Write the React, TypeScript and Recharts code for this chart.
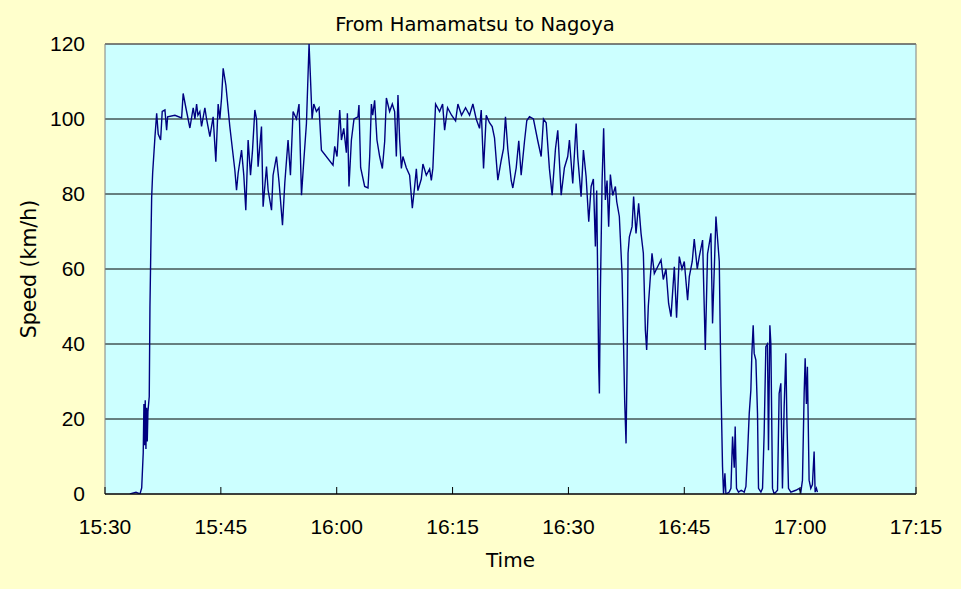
import React from "react";
import {
	LineChart,
	Line,
	CartesianGrid,
	XAxis,
	YAxis,
	ReferenceArea,
} from "recharts";

// minutes after 15:30
const times: number[] = [
	3.23, 4.01, 4.53, 4.75, 4.95, 5.04, 5.13, 5.21, 5.3, 5.39, 5.47, 5.56, 5.73, 5.82, 5.95, 6.04, 6.17, 6.47, 6.69, 6.89,
	7.2, 7.41, 7.76, 7.98, 8.11, 9.05, 9.92, 10.12, 10.47, 10.99, 11.42, 11.64, 11.86, 12.03, 12.28, 12.5, 12.93, 13.15, 13.58, 14.0,
	14.35, 14.65, 14.87, 15.09, 15.3, 15.65, 16.16, 16.81, 17.03, 17.24, 17.68, 17.97, 18.23, 18.53, 18.84, 19.1, 19.4, 19.62, 19.82, 20.26,
	20.47, 20.91, 21.12, 21.56, 21.76, 22.2, 22.54, 22.98, 23.28, 23.7, 24.01, 24.35, 24.79, 25.12, 25.44, 25.73, 26.08, 26.42, 26.6, 26.81,
	27.03, 27.37, 27.71, 28.02, 29.52, 29.74, 30.04, 30.39, 30.61, 30.91, 31.25, 31.38, 31.59, 31.9, 32.24, 32.75, 32.88, 33.1, 33.62, 34.05,
	34.27, 34.49, 34.66, 34.91, 35.21, 35.56, 35.91, 36.21, 36.43, 36.85, 37.2, 37.5, 37.72, 37.93, 38.15, 38.37, 38.57, 39.01, 39.44, 39.79,
	40.09, 40.31, 40.51, 40.95, 41.16, 41.6, 42.03, 42.25, 42.45, 42.8, 43.32, 43.71, 43.97, 44.35, 44.87, 45.39, 45.69, 46.16, 46.68, 47.2,
	47.63, 48.06, 48.49, 48.71, 49.01, 49.36, 49.78, 50.13, 50.43, 50.86, 51.3, 51.59, 51.85, 52.15, 52.59, 52.8, 53.24, 53.57, 53.88, 54.31,
	54.61, 54.96, 55.47, 56.03, 56.47, 56.77, 57.12, 57.54, 57.89, 58.32, 58.62, 59.06, 59.48, 59.91, 60.13, 60.56, 61.0, 61.2, 61.64, 61.94,
	62.29, 62.63, 62.94, 63.23, 63.49, 63.66, 63.92, 64.01, 64.14, 64.36, 64.56, 64.78, 65.0, 65.21, 65.43, 65.73, 66.08, 66.25, 66.59, 66.94,
	67.11, 67.28, 67.46, 67.59, 67.72, 67.89, 68.24, 68.44, 68.75, 69.09, 69.4, 69.7, 69.96, 70.13, 70.34, 70.82, 71.12, 71.55, 71.99, 72.28,
	72.63, 72.97, 73.28, 73.71, 74.0, 74.35, 74.7, 75.0, 75.43, 75.65, 76.03, 76.29, 76.68, 76.94, 77.37, 77.72, 78.01, 78.45, 78.66, 79.1,
	79.31, 79.53, 79.75, 79.95, 80.08, 80.26, 80.39, 80.82, 81.04, 81.25, 81.47, 81.59, 81.76, 82.02, 82.37, 82.76, 82.98, 83.19, 83.41, 83.62,
	83.75, 83.92, 84.05, 84.27, 84.48, 84.61, 84.92, 85.13, 85.34, 85.56, 85.77, 85.9, 86.08, 86.21, 86.42, 86.64, 87.07, 87.28, 87.5, 87.71,
	87.93, 88.15, 88.28, 88.49, 88.8, 89.44, 89.87, 90.09, 90.3, 90.52, 90.65, 90.81, 90.94, 91.16, 91.38, 91.59, 91.81, 91.94, 92.11, 92.24,
];

// km/h
const speeds: number[] = [
	0, 0.5, 0, 1.6, 11, 24, 13, 25, 12, 23, 14, 22, 26, 50, 67.7, 79, 85.6, 95.3, 101.5, 96,
	94.4, 102, 102.4, 97, 100.6, 101, 100.3, 106.8, 103, 97.6, 103, 100, 104, 101, 102, 98, 103, 100, 95.3, 100.6,
	88.6, 104, 100, 105.6, 113.5, 109, 98, 86.4, 81, 85.6, 91.7, 85, 75.7, 94.4, 85, 91.7, 102.4, 100, 87.3, 98,
	76.6, 87.3, 81, 75.7, 85, 90, 83, 71.7, 83, 94.4, 85, 102, 100, 104, 79.7, 88.6, 98.8, 120, 111, 100,
	104, 102, 103, 91.7, 87.7, 92.7, 90, 102.4, 94.4, 97.5, 91, 101.5, 82, 94.4, 100, 100.6, 103.7, 87, 82, 81.6,
	90, 104, 101, 105, 94.4, 90, 86.8, 94, 105.6, 102, 104, 102, 90, 106.4, 94.4, 86.8, 90, 87, 85, 76.2,
	82, 86.7, 80.9, 84, 88, 85, 86.7, 83.6, 86.9, 104, 102, 104, 97, 103, 101, 99.5, 104, 101, 103, 101,
	104, 100, 97.5, 102.4, 86.8, 101, 99, 98, 95, 83.7, 89, 92, 100.6, 92, 83.6, 81.6, 87, 94.2, 85, 94,
	99.6, 100.6, 100, 94.2, 90, 100, 99, 86.7, 79.7, 92, 97, 79.7, 87, 90, 94.4, 82.8, 98.8, 90, 79.3, 91.7,
	84.6, 72.6, 82, 84, 66, 80.9, 34, 26.8, 54.4, 83.6, 97.5, 78.4, 83.6, 71.3, 85.2, 79.6, 82, 78, 74, 58.8,
	42.8, 25, 13.5, 34, 64.2, 68.6, 71.3, 79.3, 69.5, 77.5, 69.5, 64.2, 43.7, 38.4, 50, 64.2, 58.8, 60.6, 62.4, 57.2,
	60, 50.8, 47.3, 60.6, 47, 63.3, 60, 62, 51.7, 58, 62, 68, 60, 63.3, 67.7, 38.4, 64, 69.5, 45.5, 74,
	68, 62, 28.6, 7.3, 0, 5.5, 0, 0.5, 1.5, 15.3, 7, 18, 1.5, 0.5, 1, 0.5, 2, 10.8, 21.5, 27.7,
	37.5, 45, 37.5, 35.7, 21.5, 1.5, 0.5, 1.5, 16.2, 39.3, 40, 11.7, 45, 40, 1.5, 0, 1, 26.8, 29.5, 1.5,
	23.3, 37.5, 20, 1.5, 0.5, 1, 1.5, 0.5, 3.7, 26.8, 36.2, 24, 33.9, 3.7, 1.5, 2.5, 11.3, 0.5, 1.5, 0.5,
];

const xTicks = [0, 15, 30, 45, 60, 75, 90, 105];
const yTicks = [0, 20, 40, 60, 80, 100, 120];

const data = times.map((t, i) => ({ t, speed: speeds[i] }));

const clock = (m: number) => {
	const total = 15 * 60 + 30 + m;
	const h = Math.floor(total / 60);
	const mm = total % 60;
	return `${h}:${mm < 10 ? "0" + mm : mm}`;
};

const tickFont = { fontFamily: "Liberation Sans", fontSize: 21, fill: "#000" };
const titleFont = "DejaVu Sans";

export default function App() {
	return (
		<div
			style={{
				position: "absolute",
				left: 0,
				top: 0,
				width: 961,
				height: 589,
				background: "#FFFFCC",
				overflow: "hidden",
			}}
		>
			<div
				style={{
					position: "absolute",
					top: 14,
					left: 0,
					width: 950,
					textAlign: "center",
					fontFamily: titleFont,
					fontSize: 19.5,
					lineHeight: "22px",
					color: "#000",
				}}
			>
				From Hamamatsu to Nagoya
			</div>
			<LineChart
				width={961}
				height={589}
				data={data}
				margin={{ top: 44, right: 45, bottom: 0, left: 0 }}
			>
				<CartesianGrid
					vertical={false}
					stroke="#000"
					strokeWidth={1}
					fill="#CCFFFF"
					fillOpacity={1}
				/>
				<XAxis
					dataKey="t"
					type="number"
					domain={[0, 105]}
					ticks={xTicks}
					tickFormatter={clock}
					height={95}
					tickSize={-7}
					tickMargin={32}
					stroke="#000"
					tick={tickFont}
					label={{
						value: "Time",
						position: "insideBottom",
						offset: 22,
						style: { fontFamily: titleFont, fontSize: 20, fill: "#000" },
					}}
				/>
				<YAxis
					type="number"
					domain={[0, 120]}
					ticks={yTicks}
					width={105}
					tickLine={false}
					axisLine={false}
					tickSize={0}
					tickMargin={20}
					tick={tickFont}
					allowDataOverflow
					label={{
						value: "Speed (km/h)",
						angle: -90,
						position: "insideLeft",
						offset: 29,
						style: { textAnchor: "middle", fontFamily: titleFont, fontSize: 20.5, fill: "#000" },
					}}
				/>
				<ReferenceArea
					x1={0}
					x2={105}
					y1={0}
					y2={120}
					fill="none"
					stroke="#808080"
					strokeWidth={1}
				/>
				<Line
					type="linear"
					dataKey="speed"
					stroke="#000080"
					strokeWidth={1.4}
					dot={false}
					isAnimationActive={false}
				/>
			</LineChart>
		</div>
	);
}
